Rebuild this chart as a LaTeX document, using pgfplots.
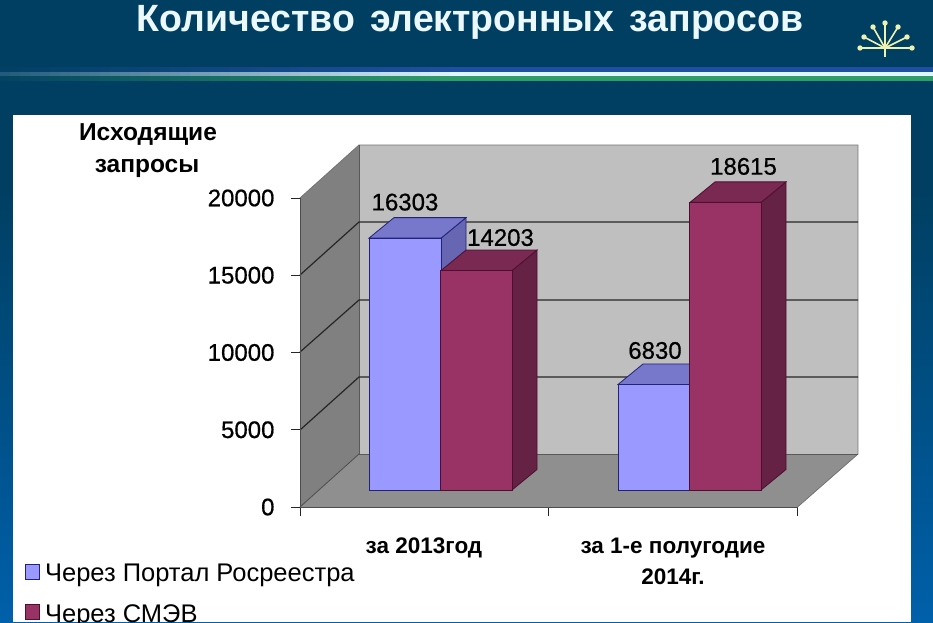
\documentclass[border=0pt]{standalone}
\usepackage{fontspec}
\setmainfont{Liberation Sans}
\newfontfamily\medfont[FakeBold=0.6]{Liberation Sans}
\usepackage{pgfplots}
\pgfplotsset{compat=1.18}
\definecolor{bgtop}{HTML}{003F62}
\definecolor{bgbot}{HTML}{0060AA}
\definecolor{lightF}{HTML}{9999FF}
\definecolor{lightT}{HTML}{7777CC}
\definecolor{lightS}{HTML}{6666B3}
\definecolor{lightE}{HTML}{222277}
\definecolor{darkF}{HTML}{993366}
\definecolor{darkT}{HTML}{7A2952}
\definecolor{darkS}{HTML}{662244}
\definecolor{darkE}{HTML}{4D0F30}
\definecolor{logo}{HTML}{EEF2B0}
\definecolor{bandB}{HTML}{1F4F9F}
\definecolor{bandW}{HTML}{DFF5FF}
\definecolor{bandG}{HTML}{2E9E66}
\pgfplotsset{sq/.style={/pgfplots/legend image code/.code={\draw[##1,line width=1pt] (0pt,-22.5pt) rectangle (14pt,-7.5pt);\path (17pt,-15pt);}}}
\begin{document}
\begin{tikzpicture}
\clip (0,0) rectangle (933pt,622pt);
\begin{scope}[x=1pt,y=-1pt,shift={(0,-622)}]
  % slide background
  \fill[bgtop] (0,0) rectangle (933,190);
  \shade[top color=bgtop,bottom color=bgbot] (0,190) rectangle (933,622);
  % band, brightening from the left
  \foreach \i in {0,1,...,45}{
    \pgfmathsetmacro\xa{\i*10}
    \pgfmathsetmacro\xb{\i*10+10.5}
    \pgfmathsetmacro\pw{min(100,15+85*\i/45)}
    \pgfmathsetmacro\pc{min(100,5+95*\i/45)}
    \fill[bandB!\pc!bgtop] (\xa,67) rectangle (\xb,72);
    \fill[bandW!\pw!bgtop] (\xa,72) rectangle (\xb,76);
    \fill[bandG!\pc!bgtop] (\xa,76) rectangle (\xb,81);
  }
  \fill[bandB] (460,67) rectangle (933,72);
  \fill[bandW] (460,72) rectangle (933,76);
  \fill[bandG] (460,76) rectangle (933,81);
  % logo
  \foreach \x/\y in {860/48,912/48,864/37,907/37,873/27,898/27,885/23}{
    \draw[logo,line width=1.6pt] (885,48) -- (\x,\y);
    \fill[logo] (\x,\y) circle (2.7);
  }
  \draw[logo,line width=1.8pt] (885,48) -- (885,57);
  % title
  \node[text=white!92!cyan,font=\bfseries\fontsize{37}{37}\selectfont,anchor=center,inner sep=0pt] at (470,22) {\resizebox*{666pt}{34pt}{Количество\hspace{0.12em} электронных\hspace{0.12em} запросов}};
  % panel
  \fill[white] (13,115) rectangle (911,622);
  % walls
  \fill[black!50] (300,198) -- (359,145) -- (359,454) -- (300,507) -- cycle;
  \fill[black!44] (300,507) -- (359,454) -- (858,454) -- (797.5,507) -- cycle;
  \fill[black!25] (359,145) rectangle (858,454);
  \draw[black!55,line width=0.8pt] (300,198) -- (359,145) -- (858,145) -- (858,454) -- (797.5,507);
  \draw[black!65,line width=0.8pt] (359,145) -- (359,454) -- (858,454);
  \draw[black!70,line width=0.8pt] (300,507) -- (359,454);
  % gridlines
  \foreach \f/\b in {275/222,352/300,430/377}{
    \draw[black!85,line width=1.2pt] (300,\f) -- (359,\b) -- (858,\b);
  }
  % y-axis heading
  \node[font=\bfseries\fontsize{24.5}{24.5}\selectfont,text=black] at (148,135) {Исходящие};
  \node[font=\bfseries\fontsize{24.5}{24.5}\selectfont,text=black] at (147,168) {запросы};
\end{scope}
\begin{axis}[
  at={(300pt,115pt)},anchor=south west,
  scale only axis,width=497.5pt,height=309pt,
  xmin=300,xmax=797.5,ymin=0,ymax=20000,
  clip=false,
  axis x line=bottom,axis y line=left,
  axis line style={-,black!70,line width=1pt},
  tick style={black!85,line width=1pt},
  tick align=outside,major tick length=9pt,
  xtick={300,548.5,797.5},xticklabels={},
  extra x ticks={424,673},
  extra x tick labels={за 2013год,{за 1-е полугодие\\[7pt]2014г.}},
  extra x tick style={major tick length=0pt,
    xticklabel style={font=\bfseries\fontsize{22.5}{24}\selectfont,align=center,anchor=north,yshift=-27pt}},
  ytick={0,5000,10000,15000,20000},
  yticklabel style={font=\medfont\fontsize{24}{24}\selectfont,text=black,xshift=-13pt,
    /pgf/number format/assume math mode=true,/pgf/number format/1000 sep={}},
  scaled y ticks=false,
  ylabel={},
  nodes near coords style={font=\medfont\fontsize{24}{24}\selectfont,text=black,
    /pgf/number format/assume math mode=true,/pgf/number format/1000 sep={}},
  legend style={at={(-0.553,-0.178)},anchor=north west,draw=none,fill=none,
    font=\fontsize{25.5}{25.5}\selectfont,row sep=17pt,inner sep=0pt},
  legend cell align=left,
]
% light series: sides and tops, group 1
\addplot[fill=lightS,draw=lightE,line width=0.8pt,yshift=17pt,forget plot] coordinates {(441,0)(441,16303)(466,17630)(466,1327)} -- cycle;
\addplot[fill=lightT,draw=lightE,line width=0.8pt,yshift=17pt,forget plot] coordinates {(369,16303)(441,16303)(466,17630)(394,17630)} -- cycle;
% light series: group 2
\addplot[fill=lightS,draw=lightE,line width=0.8pt,yshift=17pt,forget plot] coordinates {(690,0)(690,6830)(715,8157)(715,1327)} -- cycle;
\addplot[fill=lightT,draw=lightE,line width=0.8pt,yshift=17pt,forget plot] coordinates {(618,6830)(690,6830)(715,8157)(643,8157)} -- cycle;
% light fronts
\addplot[ybar,bar width=72pt,bar shift=0pt,fill=lightF,draw=lightE,line width=1pt,yshift=17pt,sq,
  nodes near coords,nodes near coords style={anchor=center,yshift=36pt,xshift=0pt},
  coordinate style/.condition={x>500}{yshift=-2pt,xshift=1pt}]
  coordinates {(405,16303)(654,6830)};
\addlegendentry{Через Портал Росреестра}
% dark series: sides and tops
\addplot[fill=darkS,draw=darkE,line width=0.8pt,yshift=17pt,forget plot] coordinates {(512,0)(512,14203)(537,15530)(537,1327)} -- cycle;
\addplot[fill=darkT,draw=darkE,line width=0.8pt,yshift=17pt,forget plot] coordinates {(441,14203)(512,14203)(537,15530)(466,15530)} -- cycle;
\addplot[fill=darkS,draw=darkE,line width=0.8pt,yshift=17pt,forget plot] coordinates {(761,0)(761,18615)(786,19942)(786,1327)} -- cycle;
\addplot[fill=darkT,draw=darkE,line width=0.8pt,yshift=17pt,forget plot] coordinates {(690,18615)(761,18615)(786,19942)(715,19942)} -- cycle;
% dark fronts
\addplot[ybar,bar width=71.5pt,bar shift=0pt,fill=darkF,draw=darkE,line width=1pt,yshift=17pt,sq,
  nodes near coords,nodes near coords style={anchor=center,yshift=33pt,xshift=24pt},
  coordinate style/.condition={x>500}{yshift=3pt,xshift=-6pt}]
  coordinates {(476.5,14203)(725.5,18615)};
\addlegendentry{Через СМЭВ}
\end{axis}
\end{tikzpicture}
\end{document}
